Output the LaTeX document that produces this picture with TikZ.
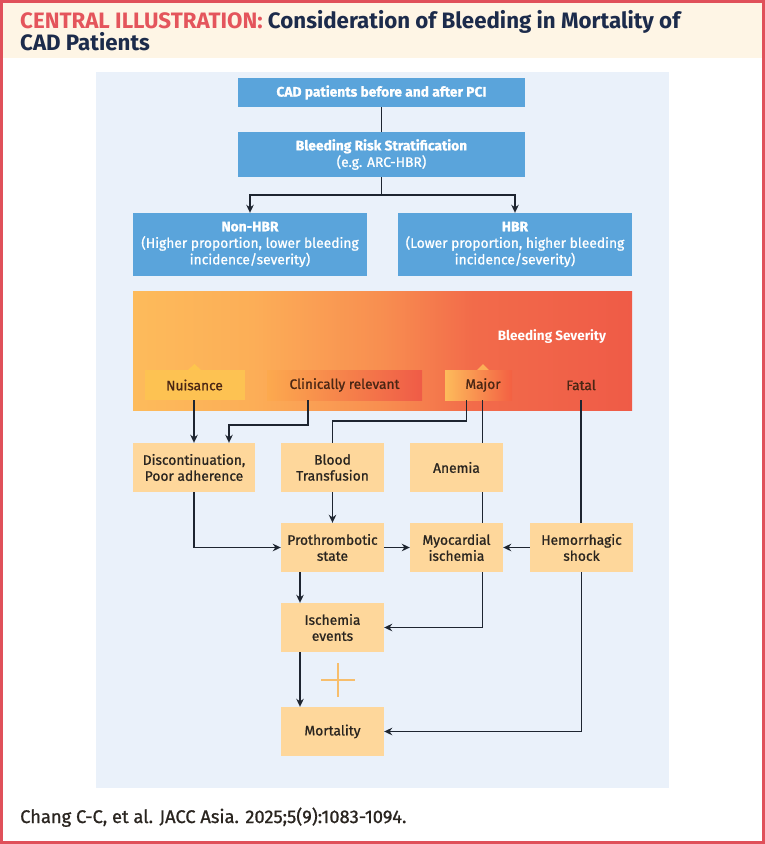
\documentclass[tikz,border=0pt]{standalone}
\usepackage{fontspec}
\setmainfont{Fira Sans}
\newfontfamily\medfont[FakeBold=1]{Fira Sans}
\usetikzlibrary{arrows.meta,calc}
\definecolor{cream}{HTML}{FEF5E5}
\definecolor{frame}{HTML}{E0505A}
\definecolor{titlered}{HTML}{E4555C}
\definecolor{navy}{HTML}{1C2B4B}
\definecolor{panel}{HTML}{EAF1FA}
\definecolor{boxblue}{HTML}{5AA4DB}
\definecolor{boxorg}{HTML}{FED79B}
\definecolor{txtdark}{HTML}{2A2520}
\definecolor{txtbrown}{HTML}{4A2614}
\definecolor{linec}{HTML}{1E2530}
\definecolor{sevA}{HTML}{FDBB5B}
\definecolor{sevB}{HTML}{FCAE57}
\definecolor{sevC}{HTML}{F88E50}
\definecolor{sevD}{HTML}{F26B4A}
\definecolor{sevE}{HTML}{EF5B47}
\definecolor{plusc}{HTML}{F7BE6C}
\pgfdeclarehorizontalshading{sev}{100bp}{color(0bp)=(sevA); color(25bp)=(sevA); color(37bp)=(sevB); color(50bp)=(sevC); color(59bp)=(sevD); color(75bp)=(sevE); color(100bp)=(sevE)}
\begin{document}
\begin{tikzpicture}[x=1pt,y=-1pt,
  bluebox/.style={fill=boxblue, text=white, font=\medfont\fontsize{13.8}{16.5}\selectfont, align=center, inner sep=0pt},
  orgbox/.style={fill=boxorg, text=txtdark, font=\medfont\fontsize{13.8}{16}\selectfont, align=center, inner sep=0pt},
  sevfont/.style={text=txtbrown, font=\medfont\fontsize{13.7}{15}\selectfont, inner sep=0pt},
  sevlabel/.style={sevfont, minimum height=30pt},
  conn/.style={draw=linec, line width=1.5pt},
  arr/.style={conn, -{Stealth[length=8pt,width=7.5pt,inset=2.5pt]}}
]
\useasboundingbox (0,0) rectangle (765,844);
\fill[white] (0,0) rectangle (765,844);
\fill[cream] (0,0) rectangle (765,58);
\draw[frame, line width=3pt] (1.5,1.5) rectangle (763.5,842.5);
\fill[panel] (96,72) rectangle (669,788);

% title
\node[anchor=base west, inner sep=0pt, font=\bfseries\fontsize{22.3}{26}\selectfont] (title1) at (20,28)
  {\textcolor{titlered}{CENTRAL ILLUSTRATION:} \textcolor{navy}{Consideration of Bleeding in Mortality of}};
\node[anchor=base west, inner sep=0pt, font=\bfseries\fontsize{22.3}{26}\selectfont, text=navy] (title2) at (20,50)
  {CAD Patients};

% top blue boxes
\node[bluebox, minimum width=287pt, minimum height=29pt] (cad) at (381.5,92.5)
  {\bfseries CAD patients before and after PCI};
\node[bluebox, minimum width=287pt, minimum height=45pt] (brs) at (381.5,154.5)
  {{\bfseries Bleeding Risk Stratification}\\(e.g. ARC-HBR)};
\node[bluebox, minimum width=234pt, minimum height=63pt] (non) at (250,244.5)
  {{\bfseries Non-HBR}\\(Higher proportion, lower bleeding\\incidence/severity)};
\node[bluebox, minimum width=234pt, minimum height=63pt] (hbr) at (515,244.5)
  {{\bfseries HBR}\\(Lower proportion, higher bleeding\\incidence/severity)};

% severity band
\node[shading=sev, minimum width=499pt, minimum height=119pt, inner sep=0pt] (band) at (382.5,350.5) {};
\node[text=white, font=\bfseries\fontsize{13.5}{15}\selectfont, inner sep=0pt] (sevtxt) at (552,337) {Bleeding Severity};
\fill[sevA!85!yellow] (188,370) -- (194.5,364) -- (201,370) -- cycle;
\node[sevlabel, fill=sevA!90!yellow, minimum width=100pt] (nuis) at (194.5,385) {Nuisance};
\node[sevlabel, left color=sevB!90!orange, right color=sevE, minimum width=155pt] (clin) at (344.5,385) {};
\node[sevfont] (clintxt) at (clin.center) {Clinically relevant};
\fill[sevB] (477,370) -- (483,364) -- (489,370) -- cycle;
\node[sevlabel, left color=sevA, right color=sevD!90!red, minimum width=67pt] (major) at (478.5,385) {};
\node[sevfont] (majortxt) at (483,385) {Major};
\node[sevlabel, minimum width=40pt] (fatal) at (581,385) {Fatal};

% orange boxes
\node[orgbox, minimum width=122pt, minimum height=49pt] (disc) at (194,467.5) {Discontinuation,\\Poor adherence};
\node[orgbox, minimum width=103pt, minimum height=49pt] (blood) at (332.5,467.5) {Blood\\Transfusion};
\node[orgbox, minimum width=93pt, minimum height=49pt] (anem) at (456.5,467.5) {Anemia};
\node[orgbox, minimum width=103pt, minimum height=49pt] (proth) at (332.5,547.5) {Prothrombotic\\state};
\node[orgbox, minimum width=93pt, minimum height=49pt] (myo) at (456.5,547.5) {Myocardial\\ischemia};
\node[orgbox, minimum width=103pt, minimum height=49pt] (hem) at (581.5,547.5) {Hemorrhagic\\shock};
\node[orgbox, minimum width=103pt, minimum height=49pt] (isch) at (332.5,627.5) {Ischemia\\events};
\node[orgbox, minimum width=103pt, minimum height=49pt] (mort) at (332.5,731.5) {Mortality};

% plus sign
\coordinate (plus) at (338,680);
\draw[plusc, line width=1.5pt] ($(plus)+(-17,0)$) -- ($(plus)+(17,0)$);
\draw[plusc, line width=1.5pt] ($(plus)+(0,-17)$) -- ($(plus)+(0,17)$);

% connectors top
\draw[conn] (cad.south) -- (brs.north);
\draw[arr] (brs.south) -- ++(0,18) -| (non.north);
\draw[arr] (brs.south) -- ++(0,18) -| (hbr.north);

% severity to boxes
\draw[arr] ([xshift=-0.5pt]nuis.south) -- (disc.north);
\draw[arr] ([xshift=-36.5pt]clin.south) -- ++(0,25) -| ([xshift=35pt]disc.north);
\draw[conn] ([xshift=-12pt]major.south) -- ++(0,21) -| (blood.north);
\draw[conn] ([xshift=4pt]major.south) -- ([xshift=4pt]major.south |- anem.north);
\draw[conn] (fatal.south) -- (fatal.south |- hem.north);

% middle
\draw[arr] (disc.south) |- (proth.west);
\draw[arr] (blood.south) -- (proth.north);
\draw[conn] ([xshift=26pt]anem.south) -- ([xshift=26pt]myo.north);
\draw[arr] (proth.east) -- (myo.west);
\draw[arr] (hem.west) -- (myo.east);

% lower
\draw[arr] ([xshift=-32.5pt]proth.south) -- ([xshift=-32.5pt]isch.north);
\draw[arr] ([xshift=26pt]myo.south) |- (isch.east);
\draw[arr] ([xshift=-32.5pt]isch.south) -- ([xshift=-32.5pt]mort.north);
\draw[arr] (hem.south) |- (mort.east);

% footer
\node[anchor=base west, inner sep=0pt, text=txtdark, font=\medfont\fontsize{18.3}{21}\selectfont] (cite) at (20,823)
  {Chang C-C, et al. JACC Asia. 2025;5(9):1083-1094.};
\end{tikzpicture}
\end{document}
